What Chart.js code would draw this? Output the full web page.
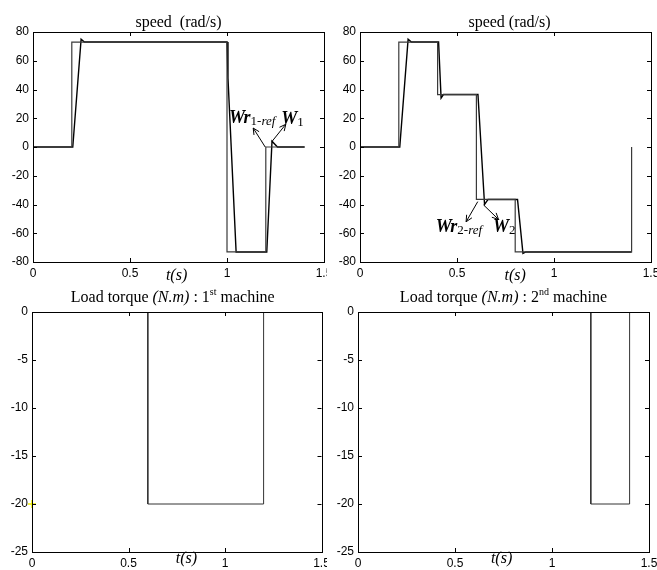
<!DOCTYPE html>
<html>
<head>
<meta charset="utf-8">
<script src="https://cdn.jsdelivr.net/npm/chart.js@4"></script>
<style>
  body { margin: 0; background: #fff; }
  #wrap { position: relative; width: 657px; height: 570px; overflow: hidden; }
  canvas { position: absolute; }
</style>
</head>
<body>
<div id="wrap">
  <canvas id="c1" width="327" height="285" style="left:0;top:0"></canvas>
  <canvas id="c2" width="330" height="285" style="left:327px;top:0"></canvas>
  <canvas id="c3" width="327" height="285" style="left:0;top:285px"></canvas>
  <canvas id="c4" width="330" height="285" style="left:327px;top:285px"></canvas>
</div>
<script>
// tick labels
const xTicks = [0, 0.5, 1, 1.5];
const speedTicks = [-80, -60, -40, -20, 0, 20, 40, 60, 80];
const torqueTicks = [-25, -20, -15, -10, -5, 0];

// machine 1 speed: reference and measured
const t1Ref = [0, 0.2, 0.2, 1.0, 1.0, 1.2, 1.2, 1.4];
const w1Ref = [0, 0, 73, 73, -73, -73, 0, 0];
const t1 = [0, 0.205, 0.248, 0.265, 1.0, 1.005, 1.047, 1.205, 1.232, 1.26, 1.4];
const w1 = [0, 0, 75, 73, 73, 48, -73, -73, 4, 0, 0];

// machine 2 speed
const t2Ref = [0, 0.2, 0.2, 0.4, 0.4, 0.6, 0.6, 0.8, 0.8, 1.4, 1.4];
const w2Ref = [0, 0, 73, 73, 36.5, 36.5, -36.5, -36.5, -73, -73, 0];
const t2 = [0, 0.205, 0.248, 0.265, 0.405, 0.418, 0.43, 0.608, 0.642, 0.66, 0.812, 0.84, 0.855, 1.4];
const w2 = [0, 0, 75, 73, 73, 34, 36.5, 36.5, -40, -36.5, -36.5, -74, -73, -73];

// load torque
const tq1T = [0, 0.6, 0.6, 1.2, 1.2, 1.5];
const tq1 = [0, 0, -20, -20, 0, 0];
const tq2T = [0, 1.2, 1.2, 1.4, 1.4, 1.5];
const tq2 = [0, 0, -20, -20, 0, 0];

const serif = '"Liberation Serif", "Times New Roman", serif';
const tickFont = { family: '"Liberation Sans", Arial, sans-serif', size: 12 };

const pts = (xs, ys) => xs.map((x, i) => ({ x: x, y: ys[i] }));

function drawRich(ctx, segs, x, y, center) {
    let w = 0;
    segs.forEach(s => { ctx.font = s.f; w += ctx.measureText(s.t).width; });
    let cx = center ? x - w / 2 : x;
    ctx.textAlign = 'left';
    ctx.textBaseline = 'alphabetic';
    segs.forEach(s => {
        ctx.font = s.f;
        ctx.fillText(s.t, cx, y + (s.dy || 0));
        cx += ctx.measureText(s.t).width;
    });
}

function arrow(ctx, x1, y1, x2, y2) {
    const a = Math.atan2(y2 - y1, x2 - x1);
    ctx.beginPath();
    ctx.moveTo(x1, y1); ctx.lineTo(x2, y2);
    ctx.moveTo(x2, y2); ctx.lineTo(x2 - 7 * Math.cos(a - 0.45), y2 - 7 * Math.sin(a - 0.45));
    ctx.moveTo(x2, y2); ctx.lineTo(x2 - 7 * Math.cos(a + 0.45), y2 - 7 * Math.sin(a + 0.45));
    ctx.stroke();
}

function decorPlugin(decor) {
    return {
        id: 'decor',
        afterDatasetsDraw(chart) {
            const ctx = chart.ctx;
            const a = chart.chartArea;
            const sx = chart.scales.x, sy = chart.scales.y;
            ctx.save();
            ctx.strokeStyle = '#000';
            ctx.fillStyle = '#000';
            ctx.lineWidth = 1;
            // frame
            ctx.strokeRect(Math.round(a.left) + 0.5, Math.round(a.top) + 0.5,
                Math.round(a.right - a.left), Math.round(a.bottom - a.top));
            // inward ticks on all sides
            ctx.beginPath();
            xTicks.forEach(v => {
                const px = Math.round(sx.getPixelForValue(v)) + 0.5;
                ctx.moveTo(px, a.bottom); ctx.lineTo(px, a.bottom - 4);
                ctx.moveTo(px, a.top); ctx.lineTo(px, a.top + 4);
            });
            decor.yTicks.forEach(v => {
                const py = Math.round(sy.getPixelForValue(v)) + 0.5;
                ctx.moveTo(a.left, py); ctx.lineTo(a.left + 4, py);
                ctx.moveTo(a.right, py); ctx.lineTo(a.right - 4, py);
            });
            ctx.stroke();
            // title
            drawRich(ctx, decor.title, (a.left + a.right) / 2 + (decor.titleDx || 0), a.top - decor.titleGap, true);
            // x label t(s)
            drawRich(ctx, [{ t: 't(s)', f: 'italic 16px ' + serif }], sx.getPixelForValue(decor.tx), a.bottom + decor.tGap, true);
            // annotations
            (decor.arrows || []).forEach(r => {
                arrow(ctx, sx.getPixelForValue(r[0]), sy.getPixelForValue(r[1]),
                    sx.getPixelForValue(r[2]), sy.getPixelForValue(r[3]));
            });
            (decor.notes || []).forEach(n => {
                drawRich(ctx, n.segs, sx.getPixelForValue(n.x), sy.getPixelForValue(n.y), false);
            });
            ctx.restore();
        }
    };
}

function makeChart(id, datasets, yMin, yMax, yTickList, box, decor) {
    decor.yTicks = yTickList;
    return new Chart(document.getElementById(id), {
        type: 'scatter',
        data: { datasets: datasets },
        options: {
            responsive: false,
            animation: false,
            devicePixelRatio: 1,
            layout: { padding: { left: 0, top: box.top, right: box.right, bottom: 0 } },
            plugins: { legend: { display: false }, tooltip: { enabled: false } },
            scales: {
                x: {
                    type: 'linear', min: 0, max: 1.5,
                    afterBuildTicks: s => { s.ticks = xTicks.map(v => ({ value: v })); },
                    ticks: { color: '#000', font: tickFont, padding: 4, maxRotation: 0, autoSkip: false, callback: v => String(v) },
                    grid: { display: false, drawTicks: false },
                    border: { display: false },
                    afterFit: s => { s.height = box.xh; s.paddingLeft = 0; s.paddingRight = 0; }
                },
                y: {
                    type: 'linear', min: yMin, max: yMax,
                    afterBuildTicks: s => { s.ticks = yTickList.map(v => ({ value: v })); },
                    ticks: { color: '#000', font: tickFont, padding: 4, autoSkip: false, callback: v => String(v) },
                    grid: { display: false, drawTicks: false },
                    border: { display: false },
                    afterFit: s => { s.width = box.yw; s.paddingTop = 0; s.paddingBottom = 0; }
                }
            }
        },
        plugins: [decorPlugin(decor)]
    });
}

const lineSet = (data, color, width) => ({
    data: data, showLine: true, borderColor: color, borderWidth: width,
    pointRadius: 0, fill: false, tension: 0
});

const speedTitle = txt => [{ t: txt, f: '16px ' + serif }];
const loadTitle = (n, sup) => [
    { t: 'Load torque ', f: '16px ' + serif },
    { t: '(N.m)', f: 'italic 16px ' + serif },
    { t: ' : ' + n, f: '16px ' + serif },
    { t: sup, f: '10px ' + serif, dy: -7 },
    { t: ' machine', f: '16px ' + serif }
];
const bigW = 'bold italic 18px ' + serif;
const subN = '13px ' + serif;
const subI = 'italic 13px ' + serif;

makeChart('c1', [
    lineSet(pts(t1Ref, w1Ref), '#3a3a3a', 1.2),
    lineSet(pts(t1, w1), '#000', 1.4)
], -80, 80, speedTicks, { top: 32, right: 3, xh: 23, yw: 33 }, {
    title: speedTitle('speed  (rad/s)'), titleGap: 5, tx: 0.74, tGap: 18,
    arrows: [[1.197, 0, 1.135, 13.2], [1.231, 3.7, 1.303, 15.8]],
    notes: [
        { x: 1.01, y: 16.7, segs: [{ t: 'Wr', f: bigW }, { t: '1-', f: subN, dy: 2 }, { t: 'ref', f: subI, dy: 2 }] },
        { x: 1.28, y: 16, segs: [{ t: 'W', f: bigW }, { t: '1', f: subN, dy: 2 }] }
    ]
});

makeChart('c2', [
    lineSet(pts(t2Ref, w2Ref), '#3a3a3a', 1.2),
    lineSet(pts(t2, w2), '#000', 1.4)
], -80, 80, speedTicks, { top: 32, right: 6, xh: 23, yw: 33 }, {
    title: speedTitle('speed (rad/s)'), titleGap: 5, titleDx: 4, tx: 0.80, tGap: 18,
    arrows: [[0.607, -38, 0.547, -52], [0.637, -40.3, 0.714, -50.4]],
    notes: [
        { x: 0.39, y: -59, segs: [{ t: 'Wr', f: bigW }, { t: '2-', f: subN, dy: 2 }, { t: 'ref', f: subI, dy: 2 }] },
        { x: 0.685, y: -59, segs: [{ t: 'W', f: bigW }, { t: '2', f: subN, dy: 2 }] }
    ]
});

makeChart('c3', [
    lineSet(pts(tq1T, tq1), '#333', 1),
    { data: [{ x: 0, y: -20 }], showLine: false, pointStyle: 'cross', pointRadius: 4, borderColor: '#f0f000', borderWidth: 1.5, clip: false }
], -25, 0, torqueTicks, { top: 27, right: 4, xh: 18, yw: 32 }, {
    title: loadTitle('1', 'st'), titleGap: 10, titleDx: -4, tx: 0.80, tGap: 11
});

makeChart('c4', [
    lineSet(pts(tq2T, tq2), '#333', 1)
], -25, 0, torqueTicks, { top: 27, right: 8, xh: 18, yw: 31 }, {
    title: loadTitle('2', 'nd'), titleGap: 10, tx: 0.74, tGap: 11
});
</script>
</body>
</html>
